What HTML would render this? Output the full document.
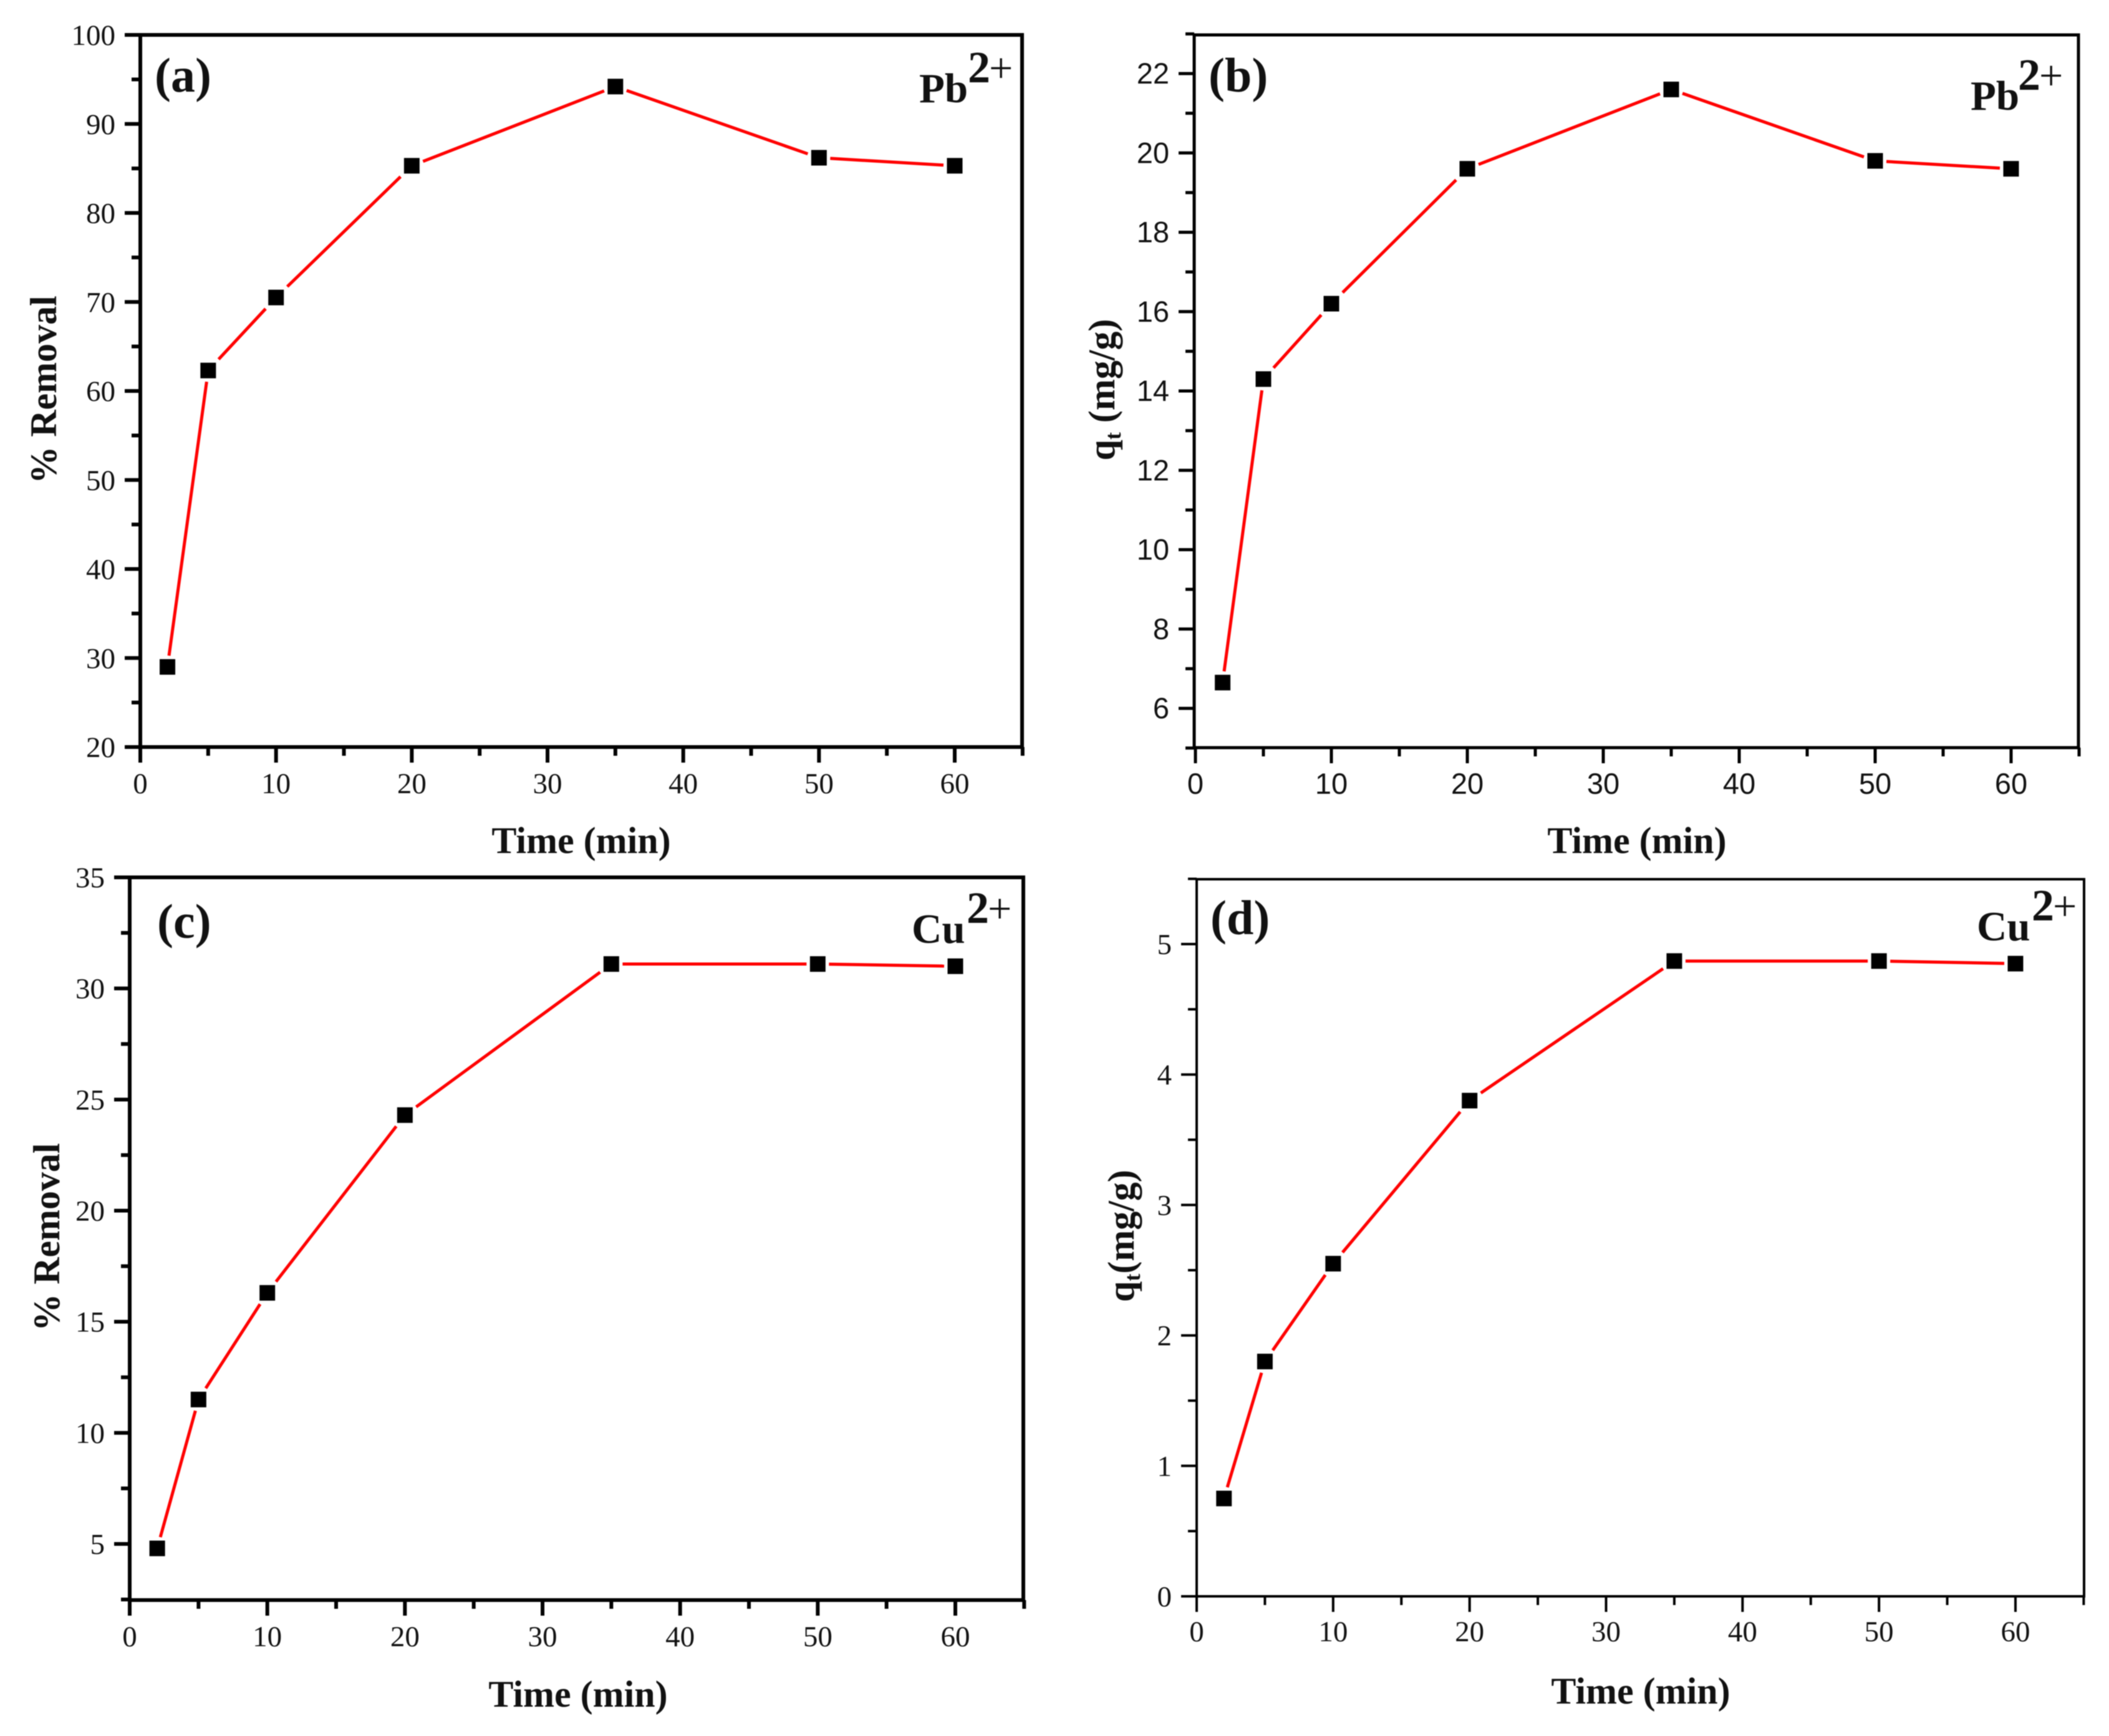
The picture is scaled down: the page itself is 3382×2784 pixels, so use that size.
<!DOCTYPE html>
<html>
<head>
<meta charset="utf-8">
<title>Adsorption kinetics of Pb2+ and Cu2+</title>
<style>
html,body{margin:0;padding:0;background:#fff;width:3382px;height:2784px;overflow:hidden}
svg{display:block}
text{fill:#111}
</style>
</head>
<body>
<svg id="figure" xmlns="http://www.w3.org/2000/svg" width="3382" height="2784" viewBox="0 0 3382 2784">
<g id="root" style="filter:blur(0.8px)"></g>
</svg>
<script>
// Chart data
const timeMin = [2, 5, 10, 20, 35, 50, 60];
const removalPb = [29, 62.3, 70.5, 85.3, 94.2, 86.2, 85.3];
const qtPb = [6.65, 14.3, 16.2, 19.6, 21.6, 19.8, 19.6];
const removalCu = [4.8, 11.5, 16.3, 24.3, 31.1, 31.1, 31.0];
const qtCu = [0.75, 1.8, 2.55, 3.8, 4.87, 4.87, 4.85];

const xMajorTicks = [0, 10, 20, 30, 40, 50, 60];
const xMinorTicks = [5, 15, 25, 35, 45, 55, 65];
const yMajorTicksA = [20, 30, 40, 50, 60, 70, 80, 90, 100];
const yMinorTicksA = [25, 35, 45, 55, 65, 75, 85, 95];
const yMajorTicksB = [6, 8, 10, 12, 14, 16, 18, 20, 22];
const yMinorTicksB = [5, 7, 9, 11, 13, 15, 17, 19, 21, 23];
const yMajorTicksC = [5, 10, 15, 20, 25, 30, 35];
const yMinorTicksC = [2.5, 7.5, 12.5, 17.5, 22.5, 27.5, 32.5];
const yMajorTicksD = [0, 1, 2, 3, 4, 5];
const yMinorTicksD = [0.5, 1.5, 2.5, 3.5, 4.5, 5.5];

const SVGNS = 'http://www.w3.org/2000/svg';
const root = document.getElementById('root');

function makeLine(parent, x1, y1, x2, y2, width, color, name) {
  const el = document.createElementNS(SVGNS, 'line');
  el.setAttribute('x1', x1);
  el.setAttribute('y1', y1);
  el.setAttribute('x2', x2);
  el.setAttribute('y2', y2);
  el.setAttribute('stroke', color);
  el.setAttribute('stroke-width', width);
  
  
  parent.appendChild(el);
  return el;
}

function makeText(parent, x, y, str, size, opts, name) {
  const el = document.createElementNS(SVGNS, 'text');
  el.setAttribute('x', x);
  el.setAttribute('y', y);
  el.setAttribute('font-size', size);
  el.setAttribute('font-family', opts.family || '"Liberation Serif", serif');
  el.setAttribute('font-weight', opts.weight || 'normal');
  el.setAttribute('text-anchor', opts.anchor || 'start');
  if (opts.rotate) el.setAttribute('transform', 'rotate(-90 ' + x + ' ' + y + ')');
  el.textContent = str;
  
  
  parent.appendChild(el);
  return el;
}

function drawPanel(p) {
  const g = document.createElementNS(SVGNS, 'g');
  
  
  root.appendChild(g);

  const xScale = v => p.x0 + (v - 0) * (p.x60 - p.x0) / 60;
  const yScale = v => p.yA + (v - p.vA) * (p.yB - p.yA) / (p.vB - p.vA);
  const sw = p.spine;
  const family = p.family;

  // frame
  makeLine(g, p.left, p.top, p.right + sw / 2, p.top, sw, '#000', 'top-spine');
  makeLine(g, p.right, p.top, p.right, p.bottom, sw, '#000', 'right-spine');
  makeLine(g, p.left, p.top - sw / 2, p.left, p.bottom, sw, '#000', 'left-spine');
  makeLine(g, p.left, p.bottom, p.right + sw / 2, p.bottom, sw, '#000', 'bottom-spine');

  // x ticks
  xMajorTicks.forEach(v => {
    const x = xScale(v);
    makeLine(g, x, p.bottom, x, p.bottom + 25, sw, '#000', 'x-major-tick');
    makeText(g, x, p.bottom + p.xLabelDy, String(v), p.tickSize, { anchor: 'middle', family: family }, 'x-tick-label');
  });
  xMinorTicks.forEach(v => {
    const x = xScale(v);
    makeLine(g, x, p.bottom, x, p.bottom + 14, sw, '#000', 'x-minor-tick');
  });

  // y ticks
  p.yMajor.forEach(v => {
    const y = yScale(v);
    makeLine(g, p.left, y, p.left - 25, y, sw, '#000', 'y-major-tick');
    makeText(g, p.left - 40, y + 16, String(v), p.tickSize, { anchor: 'end', family: family }, 'y-tick-label');
  });
  p.yMinor.forEach(v => {
    const y = yScale(v);
    makeLine(g, p.left, y, p.left - 14, y, sw, '#000', 'y-minor-tick');
  });

  // series line, with the small gaps around each marker
  const hw = 18;
  p.values.forEach((v, i) => {
    if (i === 0) return;
    const xa = xScale(timeMin[i - 1]);
    const ya = yScale(p.values[i - 1]);
    const xb = xScale(timeMin[i]);
    const yb = yScale(v);
    const t = hw / Math.max(Math.abs(xb - xa), Math.abs(yb - ya));
    makeLine(g, xa + (xb - xa) * t, ya + (yb - ya) * t, xb - (xb - xa) * t, yb - (yb - ya) * t, 5, '#ff0000', 'series-line-segment');
  });

  // series markers
  p.values.forEach((v, i) => {
    const m = document.createElementNS(SVGNS, 'rect');
    m.setAttribute('x', xScale(timeMin[i]) - 12.5);
    m.setAttribute('y', yScale(v) - 12.5);
    m.setAttribute('width', 25);
    m.setAttribute('height', 25);
    m.setAttribute('fill', '#000');
    
    
    g.appendChild(m);
  });

  // axis titles
  makeText(g, p.xTitleX, p.xTitleY, 'Time (min)', 60, { anchor: 'middle', weight: 'bold' }, 'x-axis-title');
  const yt = makeText(g, p.yTitleX, p.yTitleY, '', 60, { anchor: 'middle', weight: 'bold', rotate: true }, 'y-axis-title');
  if (p.yTitle) {
    yt.textContent = p.yTitle;
  } else {
    const a = document.createElementNS(SVGNS, 'tspan');
    a.textContent = 'q';
    yt.appendChild(a);
    const b = document.createElementNS(SVGNS, 'tspan');
    b.setAttribute('dy', '10');
    b.setAttribute('font-size', '36');
    b.textContent = 't';
    yt.appendChild(b);
    const c = document.createElementNS(SVGNS, 'tspan');
    c.setAttribute('dy', '-10');
    c.textContent = p.yTitleRest;
    yt.appendChild(c);
  }

  // panel letter and ion label
  makeText(g, p.letterX, p.letterY, '(' + p.id + ')', 78, { weight: 'bold' }, 'panel-letter');
  makeText(g, p.ionX, p.ionY, p.ion, 67, { weight: 'bold' }, 'ion-label');
  makeText(g, p.ionX + p.ionW, p.ionY - 32, '2', 72, { weight: 'bold' }, 'ion-charge-number');
  makeText(g, p.ionX + p.ionW + 34, p.ionY - 32, '+', 68, {}, 'ion-charge-sign');
}

drawPanel({
  id: 'a', values: removalPb, yMajor: yMajorTicksA, yMinor: yMinorTicksA,
  left: 225, right: 1639, top: 56, bottom: 1198, x0: 225, x60: 1531,
  vA: 100, yA: 56, vB: 20, yB: 1198, spine: 6, tickSize: 47,
  xLabelDy: 74, xTitleX: 932, xTitleY: 1368, yTitle: '% Removal', yTitleX: 90, yTitleY: 625,
  letterX: 248, letterY: 147, ion: 'Pb', ionX: 1474, ionY: 164, ionW: 78
});
drawPanel({
  id: 'b', values: qtPb, yMajor: yMajorTicksB, yMinor: yMinorTicksB,
  left: 1915, right: 3333, top: 56, bottom: 1199, x0: 1917, x60: 3225,
  vA: 22, yA: 118, vB: 6, yB: 1136, spine: 5, tickSize: 47, family: '"Liberation Sans", sans-serif',
  xLabelDy: 74, xTitleX: 2625, xTitleY: 1368, yTitleRest: ' (mg/g)', yTitleX: 1787, yTitleY: 625,
  letterX: 1938, letterY: 147, ion: 'Pb', ionX: 3160, ionY: 176, ionW: 76
});
drawPanel({
  id: 'c', values: removalCu, yMajor: yMajorTicksC, yMinor: yMinorTicksC,
  left: 208, right: 1641, top: 1407, bottom: 2566, x0: 208, x60: 1532,
  vA: 35, yA: 1407, vB: 5, yB: 2476, spine: 6, tickSize: 47,
  xLabelDy: 74, xTitleX: 927, xTitleY: 2737, yTitle: '% Removal', yTitleX: 95, yTitleY: 1984,
  letterX: 252, letterY: 1504, ion: 'Cu', ionX: 1462, ionY: 1512, ionW: 88
});
drawPanel({
  id: 'd', values: qtCu, yMajor: yMajorTicksD, yMinor: yMinorTicksD,
  left: 1919, right: 3342, top: 1410, bottom: 2560, x0: 1919, x60: 3232,
  vA: 5, yA: 1514, vB: 0, yB: 2560, spine: 4, tickSize: 47,
  xLabelDy: 72, xTitleX: 2631, xTitleY: 2732, yTitleRest: '(mg/g)', yTitleX: 1818, yTitleY: 1982,
  letterX: 1941, letterY: 1498, ion: 'Cu', ionX: 3170, ionY: 1508, ionW: 88
});
</script>
</body>
</html>
